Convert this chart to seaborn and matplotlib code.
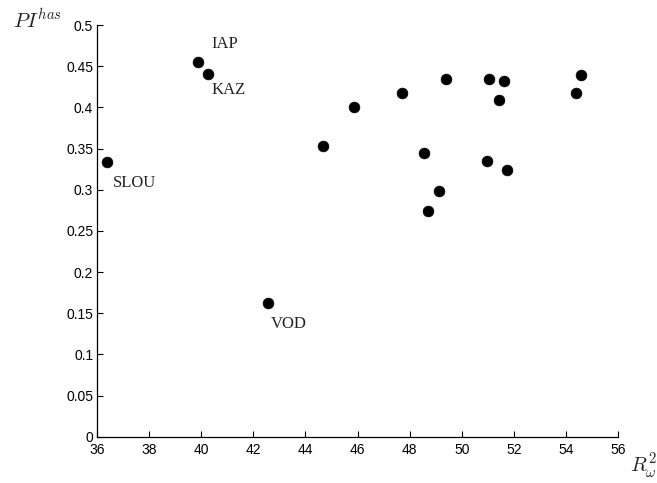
import matplotlib
matplotlib.use("Agg")
import matplotlib.pyplot as plt
import seaborn as sns
import pandas as pd

# Data
r2 = [36.38, 39.90, 40.28, 42.58, 44.69, 45.88, 47.69, 49.39, 51.05, 51.63,
      51.43, 48.56, 54.56, 54.37, 50.95, 51.74, 49.13, 48.71]
pi_has = [0.334, 0.455, 0.441, 0.162, 0.353, 0.400, 0.418, 0.435, 0.435, 0.432,
          0.409, 0.345, 0.439, 0.418, 0.335, 0.324, 0.299, 0.274]
names = ["SLOU", "IAP", "KAZ", "VOD"]
name_idx = [0, 1, 2, 3]
xticks = [36, 38, 40, 42, 44, 46, 48, 50, 52, 54, 56]
yticks = [0, 0.05, 0.1, 0.15, 0.2, 0.25, 0.3, 0.35, 0.4, 0.45, 0.5]
ytick_labels = ["0", "0.05", "0.1", "0.15", "0.2", "0.25", "0.3", "0.35", "0.4", "0.45", "0.5"]

df = pd.DataFrame({"r2": r2, "pi": pi_has})

sns.set_style("ticks")
plt.rcParams["font.family"] = ["Liberation Sans", "DejaVu Sans"]
plt.rcParams["mathtext.fontset"] = "cm"

fig = plt.figure(figsize=(6.57, 4.83), dpi=100)
ax = fig.add_axes([0.1472, 0.0959, 0.7939, 0.8523])

sns.scatterplot(data=df, x="r2", y="pi", ax=ax, color="black", s=60,
                edgecolor="black", linewidth=0.5, legend=False, zorder=3)

ax.set_xlim(36, 56)
ax.set_ylim(0, 0.5)
ax.set_xticks(xticks)
ax.set_xticklabels([str(t) for t in xticks])
ax.set_yticks(yticks)
ax.set_yticklabels(ytick_labels)
ax.tick_params(direction="in", length=4, width=0.8, labelsize=10,
               colors="black")
ax.tick_params(axis="x", pad=4.5)
ax.tick_params(axis="y", pad=2.5)
for side in ["top", "right"]:
    ax.spines[side].set_visible(False)
for side in ["left", "bottom"]:
    ax.spines[side].set_linewidth(0.9)
    ax.spines[side].set_color("black")
ax.set_xlabel("")
ax.set_ylabel("")

# point labels (offsets in points)
offsets = {"SLOU": (4.5, -15), "IAP": (9.5, 13), "KAZ": (2.5, -11.5), "VOD": (1.5, -15)}
for nm, i in zip(names, name_idx):
    ax.annotate(nm, (r2[i], pi_has[i]), xytext=offsets[nm], textcoords="offset points",
                ha="left", va="center", fontsize=12, family="Liberation Serif",
                color="#222222")

fig.text(13 / 657, 1 - 27 / 483, r"$PI^{has}$", fontsize=15, ha="left", va="baseline")
fig.text(630 / 657, 2 / 483, r"$R_{\omega}^{2}$", fontsize=15, ha="left", va="bottom")

fig.savefig("out.png", dpi=100)
